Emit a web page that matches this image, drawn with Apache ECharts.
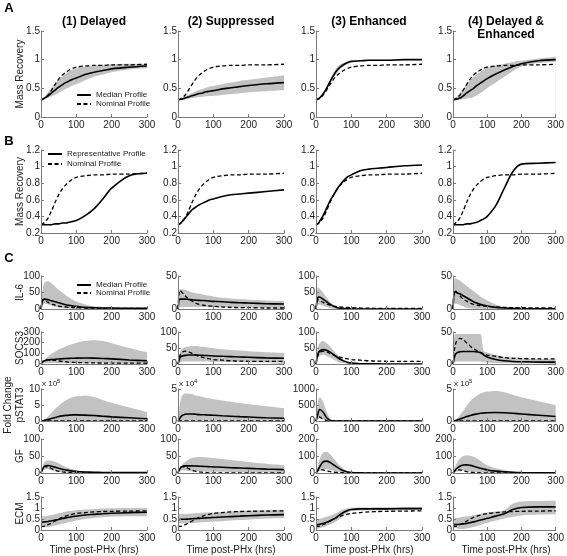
<!DOCTYPE html>
<html><head><meta charset="utf-8">
<script src="https://cdn.jsdelivr.net/npm/echarts@6/dist/echarts.min.js"></script>
<style>html,body{margin:0;padding:0;background:#fff}#c{width:567px;height:556px}</style>
</head><body><div id="c"></div>
<script>
// time grid (hrs post-PHx), shared by every series
const T = [0,5,10,20,30,40,50,60,70,80,90,100,125,150,175,200,250,300];

// ---- Row A: Mass recovery (median + band), columns 1..4
const nominalMass = [0.3,0.31,0.33,0.38,0.47,0.57,0.66,0.73,0.78,0.82,0.85,0.87,0.89,0.9,0.9,0.91,0.91,0.92];
const massMedian = [
  [0.3,0.31,0.33,0.37,0.42,0.47,0.52,0.56,0.6,0.63,0.66,0.68,0.74,0.78,0.81,0.84,0.87,0.89],
  [0.3,0.305,0.31,0.33,0.35,0.37,0.39,0.41,0.42,0.44,0.45,0.46,0.49,0.51,0.53,0.55,0.58,0.6],
  [0.3,0.31,0.33,0.4,0.5,0.62,0.73,0.82,0.88,0.92,0.95,0.97,0.98,0.99,0.99,0.99,1.0,1.0],
  [0.3,0.305,0.31,0.33,0.37,0.42,0.46,0.5,0.55,0.59,0.63,0.67,0.75,0.82,0.88,0.93,0.98,1.0]];
const massLower = [
  [0.3,0.3,0.31,0.33,0.36,0.39,0.42,0.46,0.49,0.52,0.55,0.57,0.64,0.7,0.74,0.78,0.83,0.85],
  [0.3,0.3,0.3,0.31,0.32,0.33,0.34,0.35,0.355,0.36,0.365,0.37,0.385,0.4,0.415,0.43,0.45,0.47],
  [0.3,0.31,0.33,0.39,0.48,0.58,0.68,0.77,0.84,0.89,0.93,0.95,0.97,0.98,0.98,0.98,0.99,0.99],
  [0.3,0.3,0.3,0.3,0.31,0.32,0.33,0.35,0.38,0.42,0.46,0.5,0.6,0.7,0.8,0.88,0.94,0.96]];
const massUpper = [
  [0.3,0.32,0.35,0.43,0.51,0.58,0.65,0.71,0.76,0.8,0.83,0.85,0.88,0.9,0.91,0.92,0.93,0.93],
  [0.3,0.31,0.32,0.36,0.39,0.42,0.45,0.47,0.49,0.51,0.53,0.54,0.57,0.6,0.63,0.65,0.69,0.73],
  [0.3,0.31,0.34,0.42,0.53,0.66,0.78,0.87,0.92,0.95,0.97,0.98,0.99,1.0,1.0,1.0,1.01,1.01],
  [0.3,0.32,0.35,0.42,0.5,0.57,0.64,0.7,0.75,0.79,0.83,0.86,0.9,0.93,0.96,0.98,1.02,1.05]];

// ---- Row B: representative profiles
const massRepresentative = [
  [0.3,0.3,0.3,0.3,0.3,0.31,0.31,0.32,0.32,0.33,0.34,0.35,0.41,0.49,0.61,0.74,0.89,0.92],
  [0.3,0.31,0.33,0.38,0.43,0.48,0.51,0.54,0.56,0.58,0.6,0.61,0.64,0.66,0.67,0.68,0.7,0.72],
  [0.3,0.31,0.34,0.41,0.5,0.59,0.66,0.73,0.79,0.84,0.88,0.9,0.95,0.97,0.98,0.99,1.01,1.02],
  [0.3,0.3,0.3,0.3,0.3,0.31,0.31,0.32,0.33,0.35,0.37,0.4,0.53,0.74,0.94,1.03,1.04,1.05]];

// ---- Row C: IL-6
const il6Nominal = [0,28,26,20,15,12,9,7,6,5,4.5,4,3,2.5,2,2,1.5,1.5];
const il6Median = [
  [0,27,30,28,25,22,19,16,13,11,9,8,5,4,3,3,2,2],
  [0,15,15,15,14.5,14,13.5,13,12.8,12.5,12,11.5,11,10,9.5,9,8,7.5],
  [0,35,36,30,22,14,8,4,2,1,0.5,0.3,0.2,0.2,0.2,0.2,0.2,0.2],
  [0,26,25,23,20,17,14,11,9,7,5.5,4.5,2.5,1.5,1,0.5,0.3,0.3]];
const il6Lower = [
  [0,12,16,14,10,6,4,2,1.5,1,1,0.5,0.5,0.5,0.5,0.5,0.5,0.5],
  [0,3,3,3,3,3,3,3,3,3,3,3,2.5,2.5,2.5,2,2,2],
  [0,12,14,10,6,3,1,0.5,0.2,0,0,0,0,0,0,0,0,0],
  [0,8,8,6,4,2,1,0.5,0.3,0.2,0.1,0,0,0,0,0,0,0]];
const il6Upper = [
  [0,60,80,84,78,68,58,50,42,35,28,23,14,8,6,5,3,3],
  [0,30,30,29,27,25,24,23,22,21,20,19,17,16,15,14,13,12],
  [0,65,62,50,35,22,12,6,3,1.5,1,0.5,0.5,0.5,0.5,0.5,0.5,0.5],
  [0,47,46,43,39,35,31,27,23,19,16,13,7,3,2,1,1,1]];

// ---- SOCS3
const socs3Nominal = [0,25,35,40,38,33,28,24,21,18,16,14,12,10,9,8.5,8,8];
const socs3Median = [
  [0,20,30,38,42,45,47,49,51,53,54,55,56,55,52,48,38,30],
  [0,18,24,27,28,28,28,27.5,27,26.5,26,25,24,23,22,21,19,18],
  [0,30,40,45,43,37,29,21,14,9,5,3,1,0.5,0.3,0.2,0.2,0.2],
  [0,12,17,19,19.5,19.5,19.5,19.5,19,18,14,11,7,5,4,3.5,3,3]];
const socs3Lower = [
  [0,5,8,10,10,9,8,8,7,7,7,7,6,6,6,5,5,5],
  [0,5,7,8,8,8,8,8,7.5,7.5,7,7,6.5,6,6,5.5,5,5],
  [0,15,25,28,26,20,13,8,4,2,1,0.5,0,0,0,0,0,0],
  [0,3,4,4,4,4,4,4,4,4,3,2,1.5,1,1,1,1,1]];
const socs3Upper = [
  [0,20,40,70,95,115,135,150,165,178,188,198,215,222,215,195,150,110],
  [0,35,45,52,55,56,56,55,54,52,51,49,46,44,42,40,37,35],
  [0,50,65,72,65,55,42,30,20,12,8,5,2,1,0.5,0.5,0.5,0.5],
  [0,47,47,47,47,47,47,47,47,47,20,18,14,11,10,9,8,8]];

// ---- pSTAT3 (columns in axis units: x1e5, x1e4, x1, x1e5)
const pstat3Unit = [1e5,1e4,1,1e5];
const pstat3Nominal = [0,150,130,60,15,3,0.5,0,0,0,0,0,0,0,0,0,0,0];
const pstat3Median = [
  [0,0.05,0.2,0.5,0.8,1.1,1.4,1.6,1.75,1.85,1.9,1.9,1.85,1.7,1.5,1.3,1.0,0.7],
  [0,0.4,0.8,1.05,1.1,1.1,1.05,1.0,0.98,0.95,0.92,0.9,0.82,0.75,0.68,0.62,0.5,0.42],
  [0,200,360,280,100,20,2,0,0,0,0,0,0,0,0,0,0,0],
  [0,0.02,0.1,0.3,0.5,0.7,0.85,1.0,1.1,1.2,1.25,1.3,1.32,1.28,1.2,1.1,0.9,0.7]];
const pstat3Lower = [
  [0,0,0,0,0,0,0,0,0,0,0,0,0,0,0,0,0,0],
  [0,0.02,0.03,0.03,0.03,0.03,0.03,0.03,0.03,0.03,0.03,0.03,0.03,0.03,0.03,0.03,0.03,0.03],
  [0,50,100,60,15,2,0,0,0,0,0,0,0,0,0,0,0,0],
  [0,0,0,0,0,0,0,0,0,0,0,0,0,0,0,0,0,0]];
const pstat3Upper = [
  [0,0.1,0.5,1.5,2.6,3.8,4.8,5.7,6.4,7.0,7.4,7.7,7.9,7.5,6.6,5.7,4.2,2.8],
  [0,2.5,3.8,4.3,4.3,4.2,4.0,3.9,3.75,3.6,3.5,3.4,3.2,3.0,2.8,2.6,2.3,2.0],
  [0,550,750,600,300,80,10,0,0,0,0,0,0,0,0,0,0,0],
  [0,0.1,0.3,0.9,1.6,2.4,3.1,3.6,4.0,4.3,4.5,4.6,4.7,4.5,4.1,3.7,3.1,2.5]];

// ---- GF
const gfNominal = [0,14,19,18,13,8,5,3,2,1,0.5,0.3,0,0,0,0,0,0];
const gfMedian = [
  [0,12,20,22,20,17,14,11,9,7,5.5,4.5,3,2,1.5,1.2,1,1],
  [0,12,18,21,21,21,20.5,20,19.5,19,18.5,18,17,15.5,14.5,13.5,11.5,10],
  [0,15,35,65,70,62,48,34,21,12,6,3,1,0,0,0,0,0],
  [0,12,25,40,47,48,45,40,34,28,23,18,11,7,4,2.5,1,0.5]];
const gfLower = [
  [0,5,10,11,8,5,3,2,1,0.5,0.3,0.2,0,0,0,0,0,0],
  [0,5,7,7,6,5,5,4.5,4.5,4,4,4,3.5,3,3,2.5,2,2],
  [0,5,12,20,22,18,12,7,3,1,0,0,0,0,0,0,0,0],
  [0,4,8,12,13,12,10,8,6,4,3,2,1,0.5,0,0,0,0]];
const gfUpper = [
  [0,20,32,37,36,33,28,23,18,14,11,8,4,2,1,1,0.5,0.5],
  [0,15,22,32,40,44,46,47,47,46,45,44,41,38,35,32,27,23],
  [0,40,80,120,125,110,85,60,38,22,11,5,1,0,0,0,0,0],
  [0,30,55,85,100,105,102,95,85,72,58,46,28,16,9,5,2,1]];

// ---- ECM
const ecmNominal = [0.15,0.16,0.18,0.24,0.32,0.41,0.5,0.57,0.63,0.68,0.72,0.75,0.79,0.82,0.84,0.85,0.86,0.87];
const ecmMedian = [
  [0.35,0.36,0.37,0.39,0.42,0.45,0.48,0.52,0.55,0.58,0.61,0.63,0.68,0.71,0.74,0.76,0.79,0.81],
  [0.48,0.48,0.49,0.49,0.5,0.51,0.52,0.53,0.54,0.55,0.56,0.57,0.59,0.61,0.63,0.65,0.68,0.7],
  [0.22,0.24,0.26,0.3,0.35,0.42,0.5,0.6,0.72,0.82,0.89,0.93,0.96,0.96,0.96,0.96,0.97,0.97],
  [0.25,0.25,0.25,0.26,0.28,0.3,0.33,0.37,0.41,0.45,0.49,0.53,0.63,0.74,0.93,1.02,1.05,1.05]];
const ecmLower = [
  [0.12,0.12,0.12,0.14,0.17,0.2,0.24,0.28,0.32,0.36,0.4,0.43,0.5,0.55,0.58,0.6,0.62,0.63],
  [0.3,0.3,0.3,0.31,0.32,0.32,0.33,0.34,0.35,0.36,0.37,0.38,0.4,0.43,0.45,0.48,0.52,0.55],
  [0.05,0.06,0.08,0.12,0.18,0.25,0.33,0.42,0.55,0.7,0.8,0.86,0.89,0.9,0.9,0.9,0.9,0.9],
  [0.12,0.1,0.08,0.05,0.05,0.07,0.1,0.14,0.18,0.23,0.28,0.33,0.43,0.52,0.6,0.66,0.7,0.72]];
const ecmUpper = [
  [0.6,0.61,0.62,0.65,0.68,0.72,0.76,0.8,0.83,0.86,0.88,0.9,0.93,0.96,0.98,0.99,1.0,1.0],
  [0.72,0.72,0.73,0.73,0.74,0.75,0.76,0.77,0.78,0.79,0.8,0.8,0.82,0.84,0.86,0.87,0.9,0.92],
  [0.45,0.47,0.5,0.55,0.6,0.66,0.72,0.8,0.88,0.95,0.99,1.01,1.02,1.02,1.03,1.03,1.04,1.04],
  [0.5,0.52,0.54,0.57,0.6,0.62,0.64,0.67,0.7,0.73,0.76,0.79,0.84,0.9,1.2,1.3,1.32,1.33]];

// axis ranges per row / column: [min, max, interval]
const yRange = [
  [[0,1.5,0.5],[0,1.5,0.5],[0,1.5,0.5],[0,1.5,0.5]],
  [[0.2,1.2,0.2],[0.2,1.2,0.2],[0.2,1.2,0.2],[0.2,1.2,0.2]],
  [[0,100,50],[0,50,50],[0,100,50],[0,50,50]],
  [[0,300,100],[0,100,50],[0,100,50],[0,50,50]],
  [[0,10,5],[0,5,5],[0,1000,500],[0,5,5]],
  [[0,100,50],[0,100,50],[0,200,100],[0,200,100]],
  [[0,1.5,0.5],[0,1.5,0.5],[0,1.5,0.5],[0,1.5,0.5]]];

const colTitles = ['(1) Delayed','(2) Suppressed','(3) Enhanced','(4) Delayed &\nEnhanced'];
const rowLabels = ['Mass Recovery','Mass Recovery','IL-6','SOCS3','pSTAT3','GF','ECM'];

// ---- layout
const colLeft = [41,178,316,453], plotW = 106;
const rowBox = [[31,86],[150,83],[276,33],[332,32],[389,32],[439,34],[497,33]];
const FONT = '"Liberation Sans", Arial, sans-serif';
const AX = '#7a7a7a', TXT = '#222', BAND = '#c2c2c2';
const SM = 0.3;

const grids=[], xAxes=[], yAxes=[], series=[];
function pts(arr, div){ return T.map((t,i)=>[t, arr[i]/(div||1)]); }

let idx = 0;
function addPanel(r, c, d){
  const [mn,mx,iv] = yRange[r][c];
  grids.push({left: colLeft[c], top: rowBox[r][0], width: plotW, height: rowBox[r][1]});
  const axisCommon = {
    z:10,
    axisLine:{show:true, lineStyle:{color:AX, width:1}},
    axisTick:{show:true, inside:true, length:3, lineStyle:{color:AX}},
    splitLine:{show:false},
    axisLabel:{fontSize:10, color:TXT, fontFamily:FONT, margin:1, formatter:v=>String(v)}
  };
  xAxes.push(Object.assign({gridIndex:idx, type:'value', min:0, max:300, interval:100}, axisCommon,
    {axisLabel:Object.assign({}, axisCommon.axisLabel, {margin:3})}));
  yAxes.push(Object.assign({gridIndex:idx, type:'value', min:mn, max:mx, interval:iv}, axisCommon));
  const base = {type:'line', xAxisIndex:idx, yAxisIndex:idx, symbol:'none', smooth:SM, animation:false};
  if (d.lo){
    // band = grey area under upper bound, then white area under lower bound
    series.push(Object.assign({}, base, {name:'band-upper', data:pts(d.hi), silent:true, z:1,
      lineStyle:{opacity:0}, areaStyle:{color:BAND, opacity:1, origin:'start'}}));
    series.push(Object.assign({}, base, {name:'band-lower', data:pts(d.lo), silent:true, z:1,
      lineStyle:{opacity:0}, areaStyle:{color:'#ffffff', opacity:1, origin:'start'}}));
  }
  series.push(Object.assign({}, base, {name:d.name, data:pts(d.med), z:3,
    itemStyle:{color:'#000'}, lineStyle:{color:'#000', width:1.6}}));
  series.push(Object.assign({}, base, {name:'Nominal Profile', data:pts(d.nom, d.div), z:4,
    itemStyle:{color:'#000'}, lineStyle:{color:'#000', width:1.3, type:[4,2.5]}}));
  idx++;
}

const rowsC = [
  [il6Median, il6Lower, il6Upper, il6Nominal],
  [socs3Median, socs3Lower, socs3Upper, socs3Nominal],
  [pstat3Median, pstat3Lower, pstat3Upper, pstat3Nominal],
  [gfMedian, gfLower, gfUpper, gfNominal],
  [ecmMedian, ecmLower, ecmUpper, ecmNominal]];

for (let c=0;c<4;c++) addPanel(0, c, {name:'Median Profile', med:massMedian[c], lo:massLower[c], hi:massUpper[c], nom:nominalMass});
for (let c=0;c<4;c++) addPanel(1, c, {name:'Representative Profile', med:massRepresentative[c], nom:nominalMass});
rowsC.forEach((rw, k)=>{
  for (let c=0;c<4;c++) addPanel(2+k, c, {name:'Median Profile', med:rw[0][c], lo:rw[1][c], hi:rw[2][c], nom:rw[3],
    div: k===2 ? pstat3Unit[c] : 1});
});

// ---- texts
const graphic = [];
function txt(x,y,s,opt){ graphic.push(Object.assign({type:'text', x, y, silent:true, z:20,
  style:Object.assign({text:s, font:'10px '+FONT, fill:TXT, align:'center', verticalAlign:'middle'}, opt&&opt.style||{})},
  opt&&opt.rot?{rotation:opt.rot}:{})); }
txt(9,8,'A',{style:{font:'bold 13px '+FONT, fill:'#000'}});
txt(9,141,'B',{style:{font:'bold 13px '+FONT, fill:'#000'}});
txt(9,258,'C',{style:{font:'bold 13px '+FONT, fill:'#000'}});
colTitles.forEach((s,c)=>txt(colLeft[c]+plotW/2, c===3?28:22, s, {style:{font:'bold 12px '+FONT, fill:'#000', lineHeight:13}}));
rowLabels.forEach((s,r)=>txt(20, rowBox[r][0]+rowBox[r][1]/2, s, {rot:Math.PI/2}));
txt(8, 405, 'Fold Change', {rot:Math.PI/2});
for (let c=0;c<4;c++) txt(colLeft[c]+plotW/2, 550, 'Time post-PHx (hrs)', {style:{font:'10px '+FONT}});
const expTxt = ['5','4',null,'5'];
expTxt.forEach((e,c)=>{ if(!e) return;
  graphic.push({type:'text', x:colLeft[c]+1, y:rowBox[4][0]-5, silent:true, z:20,
    style:{text:'{a|x 10}{b|'+e+'}', fill:TXT, verticalAlign:'middle', align:'left',
      rich:{a:{font:'8px '+FONT, fill:TXT}, b:{font:'6px '+FONT, fill:TXT, verticalAlign:'top', padding:[0,0,5,0]}}}});
});

const legBase = {orient:'vertical', selectedMode:false, itemWidth:14, itemHeight:10, padding:0,
  itemStyle:{opacity:0}, textStyle:{fontSize:8, color:TXT, fontFamily:FONT}};
const legend = [
  Object.assign({left:76, top:91, itemGap:1, data:['Median Profile','Nominal Profile']}, legBase),
  Object.assign({left:47, top:150, itemGap:2, data:['Representative Profile','Nominal Profile']}, legBase),
  Object.assign({left:76, top:281, itemGap:0, data:['Median Profile','Nominal Profile']}, legBase)];

const chart = echarts.init(document.getElementById('c'), null, {renderer:'canvas'});
chart.setOption({animation:false, backgroundColor:'#fff', grid:grids, xAxis:xAxes, yAxis:yAxes,
  series, legend, graphic});
</script></body></html>
